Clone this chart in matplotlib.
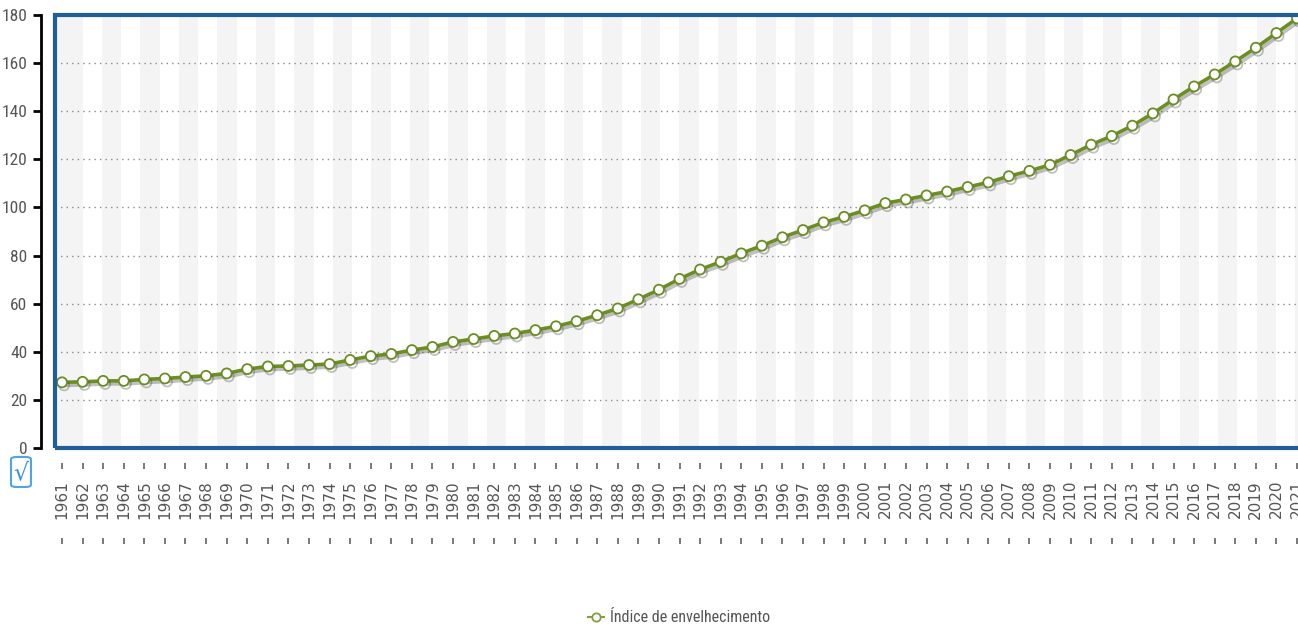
import matplotlib
matplotlib.use("Agg")
import matplotlib.pyplot as plt
import matplotlib.patheffects as pe
from matplotlib.patches import Rectangle, FancyBboxPatch
from matplotlib.lines import Line2D
import matplotlib.transforms as mtransforms
from matplotlib import font_manager as fm

years = list(range(1961, 2022))
values = [27.3, 27.5, 27.9, 27.9, 28.5, 28.9, 29.5, 30.0, 31.0, 32.8,
          33.9, 34.1, 34.5, 34.9, 36.6, 38.2, 39.1, 40.7, 42.0, 44.1,
          45.3, 46.6, 47.6, 49.0, 50.6, 52.7, 55.2, 58.0, 61.8, 65.8,
          70.3, 74.2, 77.4, 80.9, 84.1, 87.6, 90.6, 93.8, 96.1, 98.8,
          101.8, 103.3, 105.0, 106.6, 108.5, 110.4, 113.0, 115.2, 117.7, 121.8,
          126.1, 129.7, 134.0, 139.1, 144.9, 150.3, 155.3, 160.7, 166.4, 172.5,
          178.6]
year_labels = [str(y) for y in years]
y_ticks = [0, 20, 40, 60, 80, 100, 120, 140, 160, 180]
series_name = "Índice de envelhecimento"

LINE = "#6b8e23"
BORDER = "#1f5e96"

# pick a narrow font if one is available
narrow_fp = None
names = {f.name for f in fm.fontManager.ttflist}
for nm in ["Liberation Sans Narrow", "Roboto Condensed", "Open Sans Condensed", "Noto Sans Condensed"]:
    if nm in names:
        narrow_fp = fm.FontProperties(family=nm)
        break
if narrow_fp is None:
    for f in fm.fontManager.ttflist:
        fn = f.fname.lower()
        if "dejavusanscondensed.ttf" in fn or ("condensed" in fn and "bold" not in fn and "oblique" not in fn and "italic" not in fn):
            narrow_fp = fm.FontProperties(fname=f.fname)
            break
if narrow_fp is not None:
    ytick_fp = narrow_fp.copy(); ytick_fp.set_size(12.5)
    legend_fp = narrow_fp.copy(); legend_fp.set_size(11.5)
else:
    ytick_fp = fm.FontProperties(family="DejaVu Sans", size=11)
    legend_fp = fm.FontProperties(family="DejaVu Sans", size=9.5)

fig = plt.figure(figsize=(12.98, 6.30), dpi=100)
ax = fig.add_axes([55/1298, (630-448)/630, (1310-55)/1298, 433/630])

x0 = 1961 - 7/20.6
x1 = 2021 + 13/20.6
ax.set_xlim(x0, x1)
ax.set_ylim(0, 180)

# alternating background stripes
band = 0.935
s = 1962.94 - 2*band
while s < x1:
    left = x0 if s - 2*band < x0 else s
    ax.axvspan(left, s + band, color="#f4f4f4", lw=0, zorder=0)
    s += 2*band

# dotted gridlines
for t in y_ticks[1:-1]:
    ax.axhline(t, color="#8a8a8a", lw=1, linestyle=(0, (1, 3)), zorder=1)

ax.plot(years, values, color=LINE, lw=2.6, marker="o", markersize=7.2,
        markerfacecolor="white", markeredgecolor=LINE, markeredgewidth=1.3,
        zorder=3, clip_on=True,
        path_effects=[pe.SimpleLineShadow(offset=(1.5, -2.2), alpha=0.3, shadow_color="#333333"),
                      pe.Normal()])

# blue plot border
ax.add_patch(Rectangle((0, 0), 1, 1, transform=ax.transAxes, fill=False,
                       edgecolor=BORDER, lw=3, zorder=5, clip_on=False))

for side in ["top", "right", "bottom"]:
    ax.spines[side].set_visible(False)
ax.spines["left"].set_position(("outward", 10))
ax.spines["left"].set_color("black")
ax.spines["left"].set_linewidth(2)

ax.set_yticks(y_ticks)
ax.set_yticklabels([str(t) for t in y_ticks], fontproperties=ytick_fp, color="#555555")
ax.tick_params(axis="y", length=6, width=2, color="black", pad=4)

ax.set_xticks(years)
ax.set_xticklabels(year_labels, rotation=90, family="DejaVu Sans", fontsize=11,
                   color="#555555", va="top")
ax.tick_params(axis="x", length=0, pad=23)

# small dashes above and below each year label
trans = mtransforms.blended_transform_factory(ax.transData, ax.transAxes)
for yy in (-(465.5-448)/433, -(540.5-448)/433):
    ax.plot(years, [yy]*len(years), linestyle="none", marker="|", markersize=4,
            markeredgewidth=1.3, color="#6e6e6e", transform=trans, clip_on=False)

# checkbox
fig.patches.append(FancyBboxPatch((11/1298, 1-487/630), 20/1298, 30/630,
                                  boxstyle="round,pad=0,rounding_size=0.004",
                                  transform=fig.transFigure, fill=False,
                                  edgecolor="#4da3f0", lw=1.5))
fig.text(21/1298, 1-472/630, "√", ha="center", va="center", fontsize=17,
         color="#3d8fe0", family="DejaVu Sans")

# legend
handle = Line2D([], [], color="#7fa040", lw=1.5, marker="o", markersize=6,
                markerfacecolor="white", markeredgecolor="#7fa040", markeredgewidth=1.3)
fig.legend([handle], [series_name], loc="center", bbox_to_anchor=(679/1298, 1-618/630),
           frameon=False, handlelength=1.0, handletextpad=0.4,
           prop=legend_fp, labelcolor="#555555")

fig.savefig("out.png", dpi=100)
